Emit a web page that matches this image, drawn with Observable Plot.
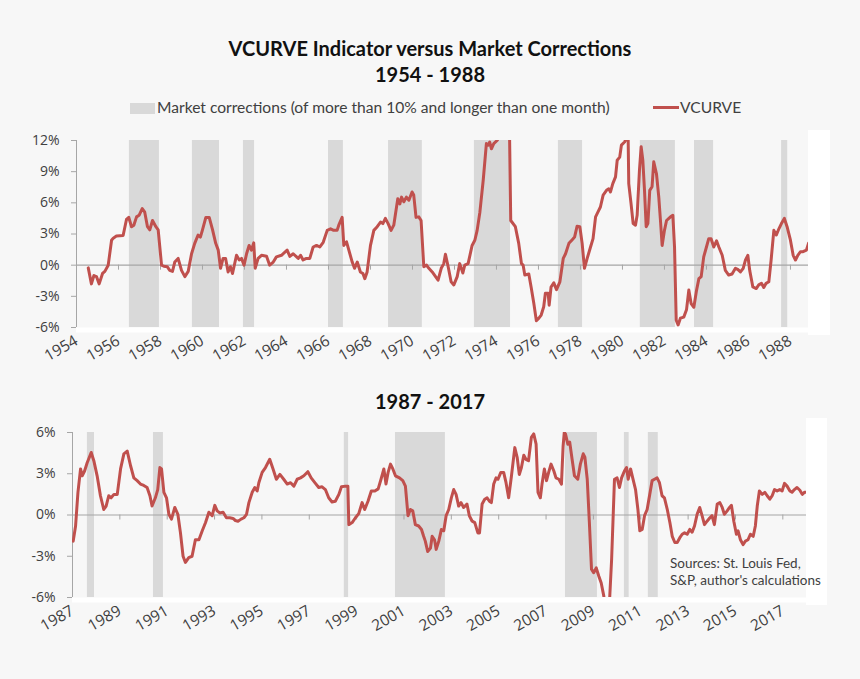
<!DOCTYPE html>
<html>
<head>
<meta charset="utf-8">
<script src="https://cdn.jsdelivr.net/npm/d3@7"></script>
<script src="https://cdn.jsdelivr.net/npm/@observablehq/plot@0.6"></script>
<style>
  html, body { margin: 0; padding: 0; background: #f7f7f7; }
  #wrap { position: relative; width: 860px; height: 679px; background: #f7f7f7; overflow: hidden; font-family: Lato, "Open Sans", sans-serif; }
  .title { position: absolute; left: 0; width: 860px; text-align: center; font-family: Lato, "Open Sans", sans-serif; font-weight: bold; font-size: 20px; color: #111; }
  .legend { position: absolute; top: 98px; font-size: 15.6px; color: #404040; white-space: nowrap; }
  .strip { position: absolute; background: #ffffff; }
  .chart { position: absolute; left: 0; }
  .src { position: absolute; left: 670px; top: 555px; font-size: 13.5px; line-height: 17px; color: #404040; white-space: nowrap; }
</style>
</head>
<body>
<div id="wrap">
  <div class="title" style="top:36px">VCURVE Indicator versus Market Corrections</div>
  <div class="title" style="top:62px">1954 - 1988</div>
  <div class="legend" style="left:130px"><span style="display:inline-block;width:25px;height:11px;background:#d9d9d9;vertical-align:-1px;margin-right:2px"></span>Market corrections (of more than 10% and longer than one month)</div>
  <div class="legend" style="left:653px"><span style="display:inline-block;width:26px;height:3px;background:#c0504d;vertical-align:4px;margin-right:1px"></span>VCURVE</div>
  <div class="strip" style="left:808px;top:130px;width:22px;height:205px"></div>
  <div class="strip" style="left:806px;top:418px;width:21px;height:187px"></div>
  <div id="top" class="chart" style="top:130px"></div>
  <div class="title" style="top:389px">1987 - 2017</div>
  <div id="bottom" class="chart" style="top:422px"></div>
  <div class="src">Sources: St. Louis Fed,<br>S&amp;P, author's calculations</div>
</div>
<script>
// ---------- Data: 1954 - 1988 ----------
const topYears = [1954.56,1954.71,1954.83,1954.95,1955.08,1955.24,1955.35,1955.51,1955.67,1955.75,1955.9,1956.22,1956.38,1956.49,1956.62,1956.73,1956.86,1956.98,1957.13,1957.25,1957.38,1957.49,1957.62,1957.78,1957.89,1958.05,1958.16,1958.32,1958.44,1958.57,1958.68,1958.84,1959.0,1959.16,1959.32,1959.48,1959.63,1959.79,1959.9,1960.0,1960.16,1960.32,1960.48,1960.63,1960.75,1960.86,1960.98,1961.1,1961.22,1961.33,1961.43,1961.62,1961.75,1961.86,1961.98,1962.1,1962.22,1962.33,1962.44,1962.51,1962.65,1962.81,1963.05,1963.2,1963.37,1963.52,1963.76,1964.03,1964.16,1964.32,1964.56,1964.67,1964.79,1964.95,1965.11,1965.27,1965.43,1965.59,1965.75,1965.94,1966.1,1966.25,1966.41,1966.49,1966.65,1966.73,1966.86,1966.97,1967.13,1967.24,1967.37,1967.52,1967.64,1967.73,1967.84,1968.0,1968.16,1968.32,1968.48,1968.59,1968.71,1968.84,1968.98,1969.11,1969.3,1969.4,1969.48,1969.59,1969.71,1969.83,1969.98,1970.06,1970.17,1970.3,1970.41,1970.54,1970.67,1970.78,1970.94,1971.1,1971.22,1971.37,1971.49,1971.57,1971.7,1971.84,1971.97,1972.13,1972.25,1972.4,1972.49,1972.65,1972.84,1972.97,1973.08,1973.21,1973.37,1973.52,1973.6,1973.68,1973.76,1973.87,1974.03,1974.19,1974.35,1974.5,1974.62,1974.68,1974.9,1975.06,1975.19,1975.27,1975.35,1975.54,1975.65,1975.78,1975.9,1976.02,1976.13,1976.25,1976.33,1976.46,1976.51,1976.6,1976.73,1976.86,1977.02,1977.18,1977.29,1977.45,1977.61,1977.72,1977.84,1977.97,1978.08,1978.19,1978.32,1978.48,1978.6,1978.72,1978.83,1978.95,1979.08,1979.24,1979.35,1979.43,1979.54,1979.67,1979.75,1979.87,1979.95,1980.1,1980.19,1980.27,1980.3,1980.41,1980.51,1980.62,1980.7,1980.81,1980.89,1980.97,1981.05,1981.13,1981.21,1981.3,1981.41,1981.49,1981.62,1981.73,1981.81,1981.89,1982.0,1982.1,1982.21,1982.29,1982.4,1982.48,1982.56,1982.65,1982.76,1982.92,1983.05,1983.16,1983.27,1983.4,1983.53,1983.64,1983.75,1983.87,1984.0,1984.11,1984.22,1984.35,1984.48,1984.59,1984.75,1984.9,1985.06,1985.22,1985.38,1985.49,1985.62,1985.75,1985.86,1985.97,1986.06,1986.21,1986.37,1986.49,1986.62,1986.73,1986.84,1986.97,1987.08,1987.21,1987.33,1987.45,1987.57,1987.71,1987.84,1988.0,1988.13,1988.24,1988.35,1988.48,1988.6,1988.76,1988.86];
const topVcurve = [-0.26,-1.8,-1.0,-1.1,-1.8,-0.8,-0.6,0,2.4,2.6,2.8,2.85,4.4,4.6,3.7,3.85,4.65,4.8,5.45,5.1,3.7,3.4,4.3,3.7,3.4,0,-0.1,-0.15,-0.5,-0.6,0.3,0.65,-0.5,-1.1,-0.6,1.1,2.1,2.9,2.7,3.4,4.6,4.6,3.4,2.1,1.45,-0.3,0.65,0.65,-0.65,-0.15,-0.8,0.95,0.5,0.65,0,1.1,1.9,1.45,2.15,-0.3,0.65,0.95,0.85,0,0.3,0.8,0.95,1.45,0.85,1.1,0.65,0.95,0.5,0.65,0.65,1.75,1.9,1.75,2.2,3.35,3.5,3.35,3.35,3.85,4.6,1.9,2.25,1.45,0.3,-0.3,0.3,-0.65,-0.8,-1.3,-0.65,1.9,3.35,3.7,4.15,4.0,4.5,4.0,3.35,3.85,6.4,5.9,6.55,6.1,6.55,6.25,7.05,6.75,4.6,4.65,4.3,-0.15,0,-0.3,-0.65,-1.1,-1.45,-0.3,0.15,1.05,-0.15,-1.6,-1.9,-1.1,0.15,-0.75,0,0.15,1.9,2.4,3.35,5.1,8.2,11.7,11.55,11.85,11.2,11.7,12.0,12.5,13.5,14.0,13.0,4.3,3.7,2.1,0.15,0,-0.95,-0.85,-2.1,-3.7,-5.35,-5.1,-4.8,-4.0,-2.7,-2.7,-3.85,-2.1,-1.7,-2.35,-1.6,0.65,1.1,2.1,2.45,2.7,3.75,3.7,2.1,-0.3,0.65,1.75,2.55,4.65,5.1,5.6,6.75,7.2,7.35,7.05,7.85,8.5,10.1,10.4,11.55,11.85,12.2,12.4,7.85,5.9,4.0,3.85,4.8,9.15,11.4,10.1,7.2,3.7,4.0,7.2,7.55,9.95,8.8,6.55,4.3,1.9,3.35,4.3,4.5,4.65,4.8,1.75,-5.3,-5.75,-5.1,-5.0,-4.3,-2.4,-3.7,-4.05,-2.4,-1.3,-1.1,0.8,1.75,2.55,2.55,1.75,2.35,1.75,0.95,-0.5,-0.95,-0.85,-0.3,-0.4,-0.65,-0.3,0.5,0.95,-0.5,-2.1,-2.25,-1.9,-1.75,-2.15,-1.75,-1.6,0.5,3.35,2.9,3.5,4.0,4.5,3.7,2.4,0.95,0.5,0.95,1.3,1.3,1.45,2.1];
const topCorrStart = [1956.52,1959.52,1961.95,1966.0,1968.86,1972.95,1976.95,1980.85,1983.43,1987.58];
const topCorrEnd   = [1957.95,1960.81,1962.48,1966.71,1970.47,1974.67,1978.1,1982.52,1984.34,1987.87];
const topTickYears = [1954,1956,1958,1960,1962,1964,1966,1968,1970,1972,1974,1976,1978,1980,1982,1984,1986,1988];
const topYTicks = [-6,-3,0,3,6,9,12];

// ---------- Data: 1987 - 2017 ----------
const botYears = [1987.03,1987.13,1987.23,1987.34,1987.41,1987.51,1987.62,1987.79,1987.9,1988.04,1988.18,1988.32,1988.42,1988.53,1988.63,1988.75,1988.89,1989.03,1989.17,1989.31,1989.45,1989.59,1989.73,1989.87,1990.01,1990.15,1990.27,1990.36,1990.5,1990.6,1990.69,1990.76,1990.86,1990.97,1991.07,1991.18,1991.32,1991.45,1991.56,1991.67,1991.77,1991.91,1992.05,1992.19,1992.34,1992.48,1992.62,1992.76,1992.9,1993.01,1993.11,1993.22,1993.36,1993.5,1993.64,1993.78,1993.88,1993.99,1994.12,1994.24,1994.35,1994.45,1994.59,1994.7,1994.8,1994.87,1995.01,1995.15,1995.33,1995.47,1995.61,1995.76,1995.92,1996.07,1996.21,1996.35,1996.49,1996.63,1996.77,1996.94,1997.08,1997.26,1997.4,1997.54,1997.68,1997.82,1997.96,1998.1,1998.25,1998.36,1998.53,1998.63,1998.67,1998.81,1998.95,1999.09,1999.23,1999.34,1999.48,1999.62,1999.77,1999.91,2000.03,2000.15,2000.24,2000.33,2000.43,2000.53,2000.64,2000.81,2000.95,2001.06,2001.17,2001.27,2001.37,2001.48,2001.62,2001.74,2001.83,2001.9,2002.0,2002.12,2002.19,2002.29,2002.36,2002.47,2002.58,2002.68,2002.78,2002.89,2003.0,2003.1,2003.2,2003.31,2003.41,2003.52,2003.66,2003.76,2003.88,2003.99,2004.12,2004.19,2004.3,2004.41,2004.51,2004.61,2004.69,2004.79,2004.89,2004.97,2005.09,2005.21,2005.31,2005.42,2005.54,2005.68,2005.78,2005.87,2005.96,2006.06,2006.15,2006.26,2006.38,2006.48,2006.58,2006.66,2006.76,2006.83,2006.93,2007.02,2007.11,2007.21,2007.33,2007.42,2007.54,2007.65,2007.72,2007.77,2007.82,2007.92,2008.0,2008.1,2008.2,2008.34,2008.45,2008.57,2008.64,2008.74,2008.83,2008.92,2009.01,2009.12,2009.23,2009.33,2009.44,2009.5,2009.6,2009.68,2009.77,2009.89,2010.0,2010.1,2010.19,2010.31,2010.4,2010.47,2010.57,2010.66,2010.78,2010.88,2010.96,2011.06,2011.16,2011.27,2011.38,2011.48,2011.58,2011.69,2011.79,2011.9,2012.0,2012.12,2012.23,2012.33,2012.44,2012.54,2012.65,2012.75,2012.85,2012.96,2013.07,2013.17,2013.27,2013.38,2013.49,2013.59,2013.69,2013.8,2013.92,2014.01,2014.11,2014.23,2014.34,2014.44,2014.53,2014.65,2014.75,2014.83,2014.93,2015.04,2015.11,2015.21,2015.32,2015.42,2015.53,2015.63,2015.75,2015.84,2015.92,2016.01,2016.13,2016.24,2016.34,2016.45,2016.55,2016.65,2016.76,2016.87,2016.97,2017.07,2017.18,2017.3,2017.39,2017.49,2017.6,2017.72,2017.82,2017.91,2018.0];
const botVcurve = [-1.9,-0.8,1.65,3.35,2.85,3.2,3.8,4.55,3.95,2.85,1.4,0.4,0.65,1.4,1.25,1.5,1.5,3.35,4.45,4.65,3.6,2.7,2.5,2.25,2.15,2.0,1.4,0.65,1.25,1.85,3.45,3.35,1.65,1.25,0.05,-0.3,0.55,0.05,-1.3,-3.0,-3.45,-3.1,-3.0,-1.8,-1.8,-1.15,-0.55,0.2,-0.05,0.7,0.3,0.15,0.2,-0.2,-0.2,-0.25,-0.4,-0.45,-0.3,-0.2,0.05,0.9,1.65,2.0,1.75,2.35,3.1,3.45,4.05,3.35,2.6,2.95,2.6,2.25,2.35,2.1,2.6,2.7,2.85,3.15,2.7,2.3,2.0,2.05,1.85,1.25,0.95,1.0,1.5,2.05,2.1,2.1,-0.7,-0.55,-0.2,0.1,0.9,0.4,1.0,1.75,1.75,1.9,2.6,3.35,2.25,3.1,3.7,3.35,2.85,2.7,2.5,2.1,-0.05,0.4,0.3,-0.7,-0.8,-1.05,-1.55,-1.9,-2.65,-2.4,-1.55,-1.8,-2.5,-1.9,-1.05,-1.15,-0.05,0.4,1.25,1.85,1.5,0.65,0.9,0.55,0.8,-0.05,-0.45,-0.55,-1.3,-1.3,0.8,1.15,1.25,1.0,0.9,2.25,2.7,2.6,3.1,3.1,2.35,1.25,2.85,4.9,4.2,2.95,3.45,4.35,4.05,3.95,5.65,5.9,5.15,1.65,1.25,2.25,3.35,2.5,3.1,3.7,3.2,2.7,2.6,2.25,5.0,6.0,5.9,5.15,5.3,4.05,2.85,2.6,3.7,4.45,4.2,2.6,-0.55,-3.95,-4.2,-3.85,-4.45,-4.95,-5.9,-7.2,-8.3,-6.3,-3.2,2.6,2.7,2.0,2.7,3.2,3.45,2.6,3.35,2.7,1.85,0.4,-1.15,-1.05,-0.05,0.4,1.5,2.5,2.6,2.7,2.35,1.4,1.25,0.4,-0.55,-1.55,-2.0,-2.0,-1.65,-1.4,-1.3,-1.4,-1.05,-1.25,-0.8,0.05,0.55,-0.05,-0.7,-0.45,-0.2,-0.05,-0.7,0.8,0.9,0.55,0.05,0.3,0.55,0.7,-0.45,-1.4,-1.15,-1.8,-2.15,-1.9,-1.8,-1.4,-1.55,-0.8,0.65,1.75,1.5,1.65,1.4,1.15,1.4,1.85,1.75,1.85,1.75,2.3,2.1,1.75,1.65,1.85,2.0,1.8,1.5,1.65,1.65];
const botCorrStart = [1987.63,1990.42,1998.48,2000.64,2007.82,2010.31,2011.32];
const botCorrEnd   = [1987.93,1990.84,1998.66,2002.75,2009.17,2010.51,2011.74];
const botTickYears = [1987,1989,1991,1993,1995,1997,1999,2001,2003,2005,2007,2009,2011,2013,2015,2017];
const botYTicks = [-6,-3,0,3,6];

const RED = "#c0504d", SHADE = "#d9d9d9", AXIS = "#a6a6a6";

function panel({years, values, cStart, cEnd, ticks, yTicks, xDomain, yDomain, height, ml, mr}) {
  const line = years.map((x, i) => ({x, v: values[i]}));
  const shades = cStart.map((s, i) => ({s, e: cEnd[i]}));
  const inner = height - 50;
  return Plot.plot({
    width: 860, height, marginLeft: ml, marginRight: mr, marginTop: 10, marginBottom: 40,
    style: {background: "transparent", fontFamily: "'Open Sans', sans-serif", fontSize: "14px", color: "#404040", overflow: "visible"},
    x: {domain: xDomain},
    y: {domain: yDomain},
    marks: [
      Plot.rect(shades, {x1: "s", x2: "e", fill: SHADE}),
      Plot.ruleY([0], {stroke: AXIS, strokeWidth: 1.2}),
      Plot.ruleX(ticks.filter(t => t > xDomain[0]), {y1: 0, y2: -(yDomain[1]-yDomain[0]) * 5 / inner, stroke: AXIS}),
      Plot.ruleX([xDomain[0]], {stroke: AXIS}),
      Plot.ruleY([yDomain[0]], {stroke: "#ffffff", strokeWidth: 5, dy: 2.5}),
      Plot.line(line, {x: "x", y: "v", stroke: RED, strokeWidth: 3, clip: true, curve: "linear"}),
      Plot.axisY({ticks: yTicks, tickFormat: d => d + "%", tickSize: 5, tickPadding: 12, label: null, stroke: AXIS}),
      Plot.axisX({ticks, tickFormat: d => String(d), tickRotate: -30, tickSize: 0, tickPadding: 12, label: null, fontSize: 15.5})
    ]
  });
}

document.getElementById("top").append(panel({
  years: topYears, values: topVcurve, cStart: topCorrStart, cEnd: topCorrEnd,
  ticks: topTickYears, yTicks: topYTicks, xDomain: [1954, 1988.86], yDomain: [-6, 12], height: 237, ml: 76, mr: 52
}));
document.getElementById("bottom").append(panel({
  years: botYears, values: botVcurve, cStart: botCorrStart, cEnd: botCorrEnd,
  ticks: botTickYears, yTicks: botYTicks, xDomain: [1987, 2018.0], yDomain: [-6, 6], height: 215, ml: 72, mr: 54
}));
</script>
</body>
</html>
